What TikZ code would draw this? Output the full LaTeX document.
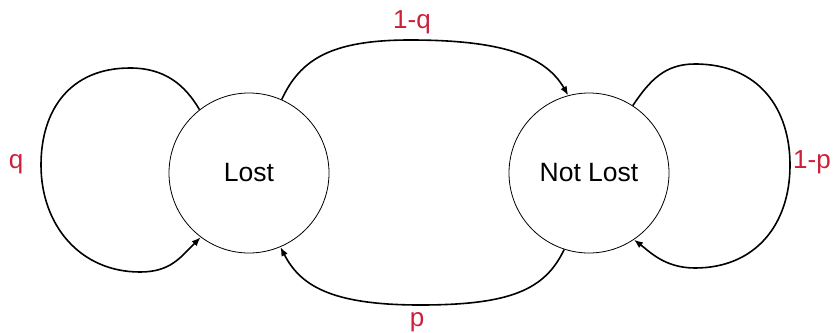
\documentclass[tikz,border=0pt]{standalone}
\usepackage{fontspec}
\setmainfont{Liberation Sans}
\usetikzlibrary{arrows.meta}
\definecolor{lblred}{RGB}{204,32,58}
\tikzset{
  state/.style={circle, draw, line width=0.8pt, minimum size=160pt, inner sep=0pt, font=\fontsize{26.5}{31}\selectfont},
  edge/.style={line width=1.6pt, -{Latex[length=9pt,width=7pt]}},
  lbl/.style={text=lblred, anchor=base, inner sep=0pt, font=\fontsize{26}{31}\selectfont}
}
\begin{document}
\begin{tikzpicture}[x=1pt,y=-1pt]
\useasboundingbox (0,0) rectangle (834,332);
\node[state] (lost) at (249,173) {Lost};
\node[state] (notlost) at (589,173) {Not Lost};
\draw[edge] (lost.128) .. controls (185,85) and (165,68) .. (130,68)
  .. controls (70,68) and (41,110) .. (41,165)
  .. controls (41,225) and (80,272) .. (140,272)
  .. controls (170,272) and (180,258) .. (lost.233);
\draw[edge] (lost.66) .. controls (300,60) and (330,40) .. (410,40)
  .. controls (500,40) and (545,55) .. (notlost.105);
\draw[edge] (notlost.252) .. controls (545,290) and (510,305) .. (420,305)
  .. controls (330,305) and (300,285) .. (lost.293);
\draw[edge] (notlost.57) .. controls (650,80) and (665,64) .. (695,64)
  .. controls (760,64) and (790,110) .. (790,165)
  .. controls (790,225) and (755,268) .. (695,268)
  .. controls (665,268) and (650,252) .. (notlost.304);
\node[lbl] (lq) at (16,168) {q};
\node[lbl] (l1q) at (412,28) {1-q};
\node[lbl] (lp) at (417,326) {p};
\node[lbl] (l1p) at (812,168) {1-p};
\end{tikzpicture}
\end{document}
